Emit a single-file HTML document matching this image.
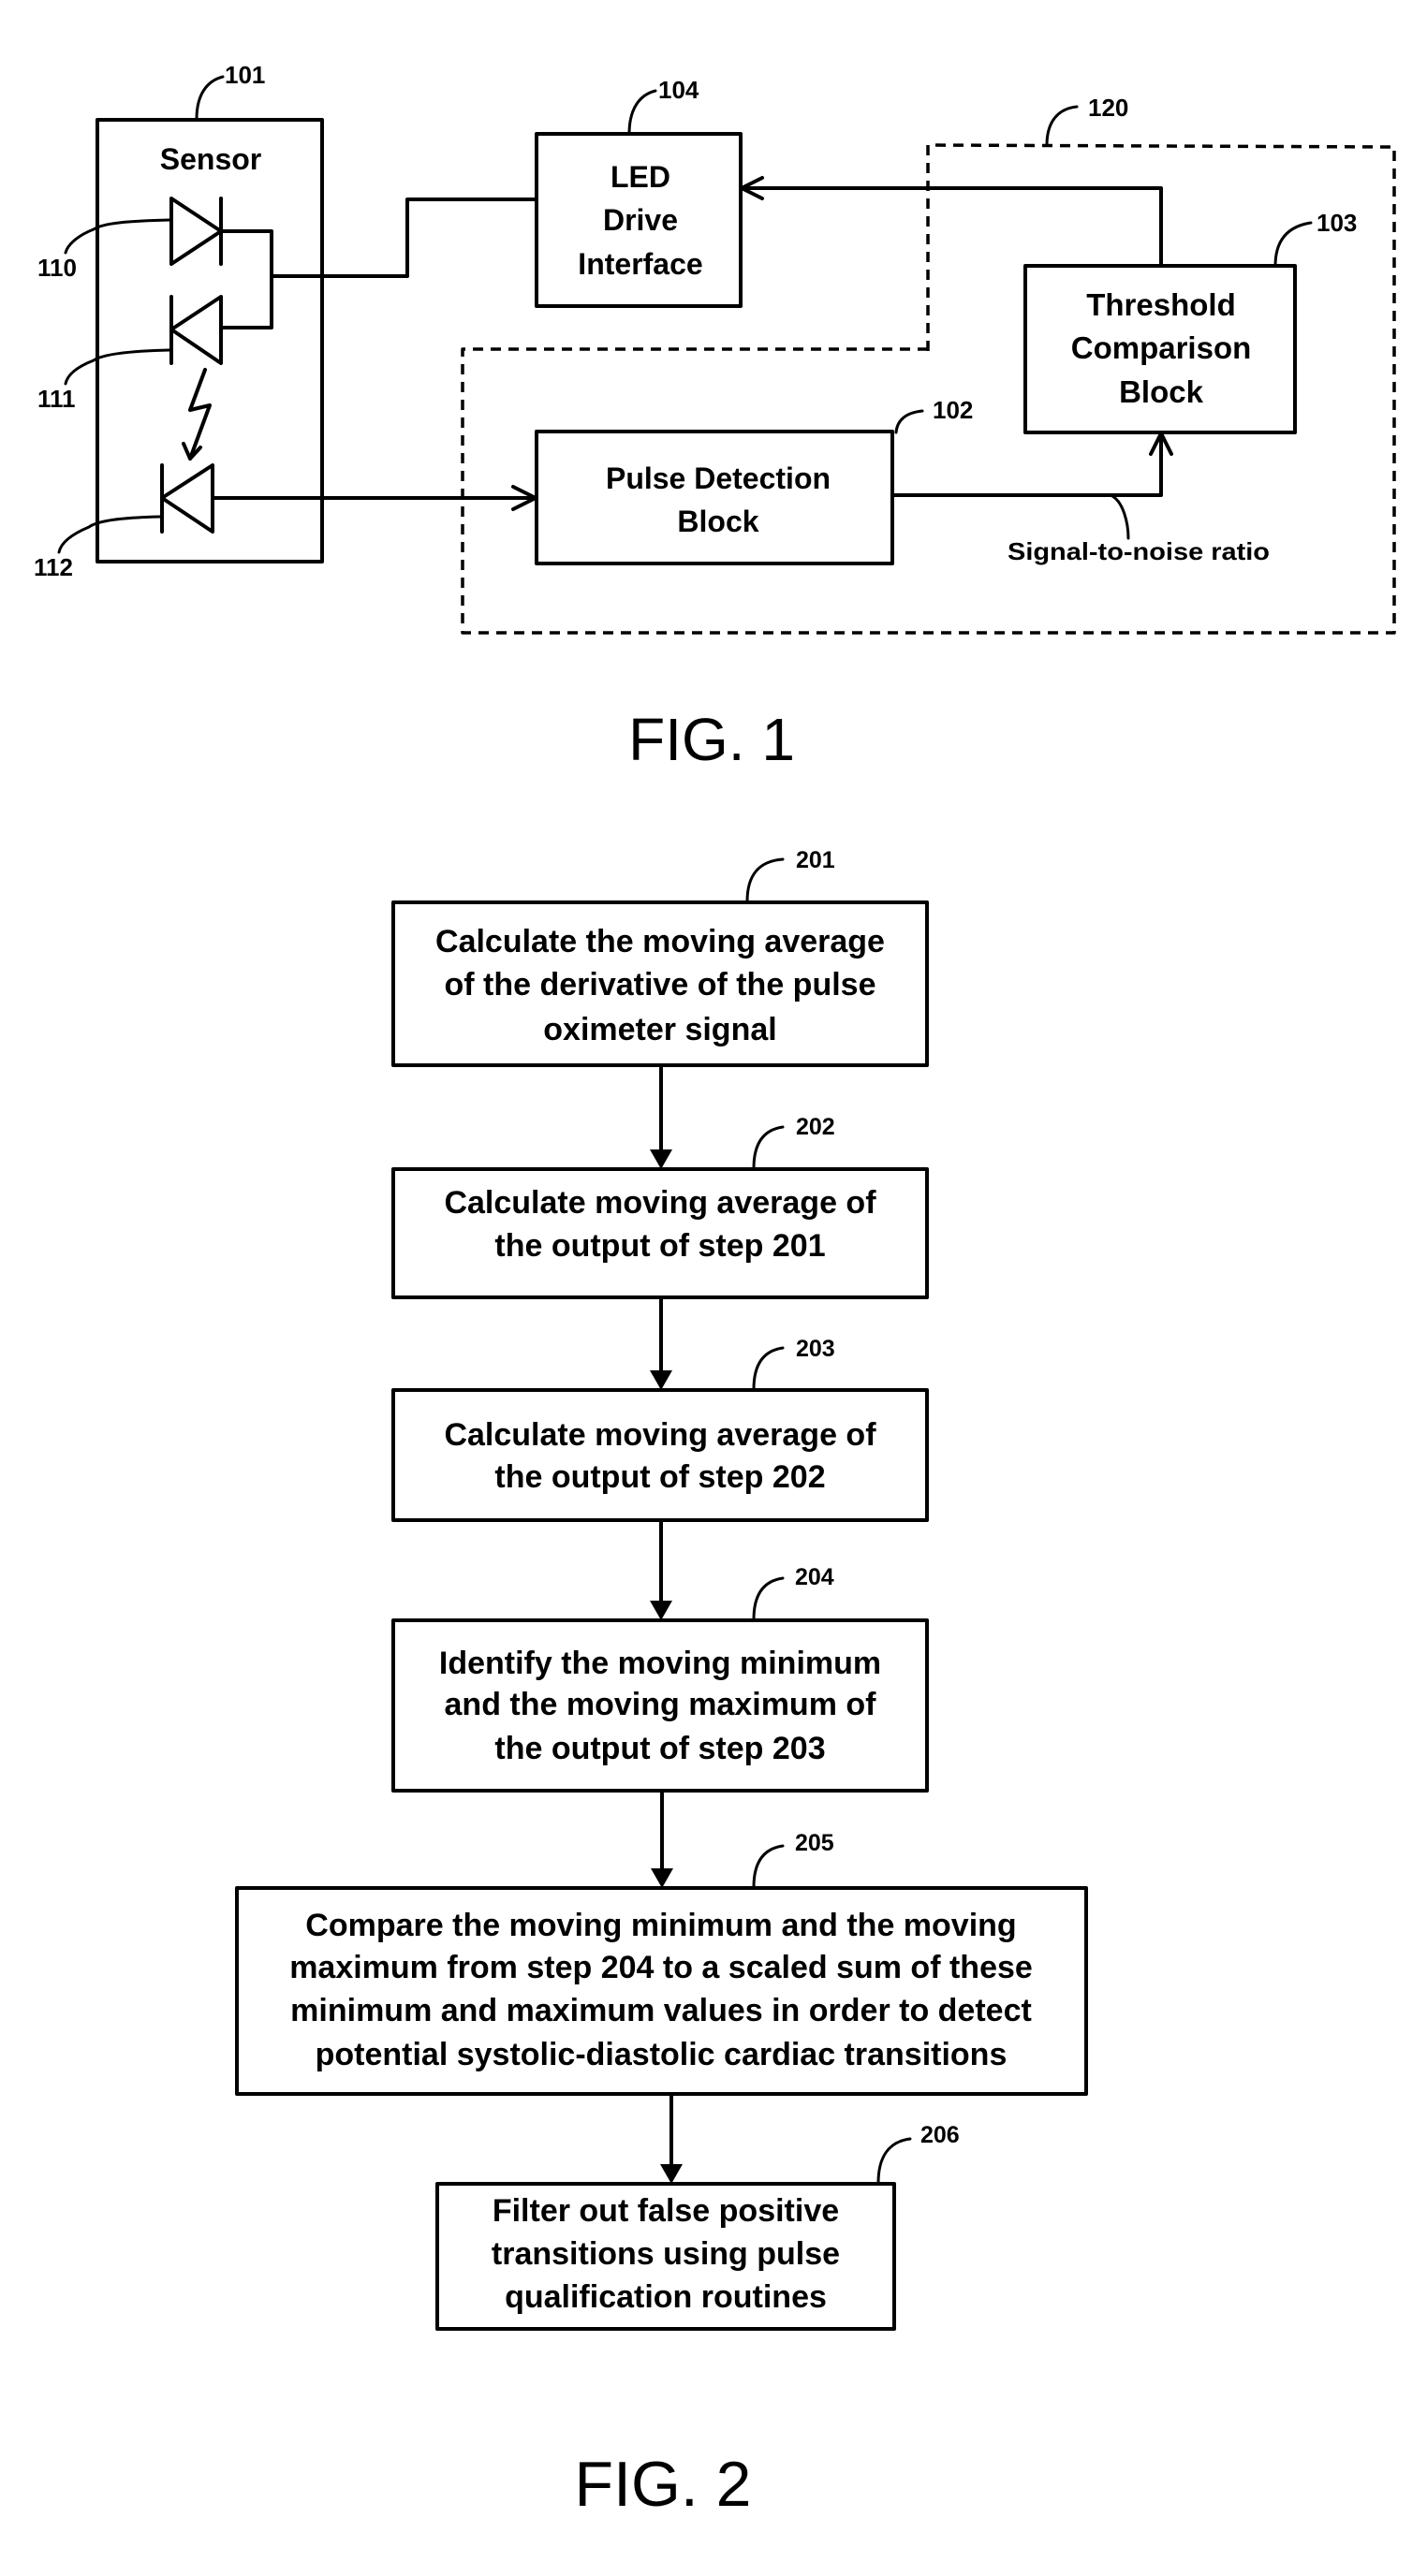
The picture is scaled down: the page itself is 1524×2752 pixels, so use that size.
<!DOCTYPE html>
<html><head><meta charset="utf-8"><style>
html,body{margin:0;padding:0;background:#fff;}
svg{display:block;}
text{font-family:"Liberation Sans",sans-serif;font-weight:bold;fill:#000;}
</style></head><body>
<svg width="1524" height="2752" viewBox="0 0 1524 2752" xmlns="http://www.w3.org/2000/svg">
<g fill="none" stroke="#000" stroke-width="4" stroke-linejoin="round" stroke-linecap="round">
<!-- FIG 1 -->
<rect x="104" y="128" width="240" height="472"/>
<polygon points="183,212 236,247 183,282"/>
<line x1="236" y1="212" x2="236" y2="282"/>
<polyline points="236,247 290,247 290,350 236,350"/>
<polygon points="236,317 183,352 236,388"/>
<line x1="183" y1="317" x2="183" y2="388"/>
<polyline points="290,295 435,295 435,213 572,213"/>
<polyline points="219,395 203,438 224,433 203,490"/>
<polyline points="196,474 203,490 214,478"/>
<polygon points="227,497 173,532 227,568"/>
<line x1="173" y1="497" x2="173" y2="568"/>
<line x1="227" y1="532" x2="572" y2="532"/>
<polyline points="548,520 572,532 548,544"/>
<rect x="573" y="143" width="218" height="184"/>
<rect x="573" y="461" width="380" height="141"/>
<rect x="1095" y="284" width="288" height="178"/>
<polyline points="1240,284 1240,201 792,201"/>
<polyline points="814,190 792,201 814,212"/>
<polyline points="953,529 1240,529 1240,463"/>
<polyline points="1229,485 1240,463 1251,485"/>
<g stroke-width="3">
<path d="M181,235 C140,236 110,238 100,245 C82,252 72,262 70,270"/>
<path d="M181,374 C140,375 110,378 100,385 C82,392 72,400 70,410"/>
<path d="M171,552 C130,553 105,556 95,563 C76,571 65,580 63,590"/>
<path d="M210,127 C210,100 222,86 238,82"/>
<path d="M672,143 C672,115 684,101 700,97"/>
<path d="M957,462 C958,450 966,441 985,439"/>
<path d="M1362,284 C1362,258 1374,242 1400,238"/>
<path d="M1118,155 C1118,130 1130,116 1150,114"/>
<path d="M1186,529 C1200,535 1205,560 1205,575"/>
</g>
<polyline points="991,375 991,155 1489,157 1489,676 494,676 494,373 991,373" stroke-width="3.5" stroke-dasharray="11 8" stroke-linecap="butt"/>
<!-- FIG 2 -->
<rect x="420" y="964" width="570" height="174"/>
<rect x="420" y="1249" width="570" height="137"/>
<rect x="420" y="1485" width="570" height="139"/>
<rect x="420" y="1731" width="570" height="182"/>
<rect x="253" y="2017" width="907" height="220"/>
<rect x="467" y="2333" width="488" height="155"/>
<line x1="706" y1="1138" x2="706" y2="1230"/>
<line x1="706" y1="1386" x2="706" y2="1466"/>
<line x1="706" y1="1624" x2="706" y2="1712"/>
<line x1="707" y1="1913" x2="707" y2="1998"/>
<line x1="717" y1="2237" x2="717" y2="2314"/>
<g stroke-width="3">
<path d="M798,963 C798,935 810,920 836,918"/>
<path d="M805,1248 C805,1222 815,1207 836,1204"/>
<path d="M805,1484 C805,1458 815,1443 836,1440"/>
<path d="M805,1730 C805,1704 815,1689 836,1686"/>
<path d="M805,2016 C805,1990 815,1975 836,1972"/>
<path d="M938,2332 C938,2306 948,2288 972,2285"/>
</g>
</g>
<g fill="#000">
<polygon points="694,1228 718,1228 706,1249"/>
<polygon points="694,1464 718,1464 706,1485"/>
<polygon points="694,1710 718,1710 706,1731"/>
<polygon points="695,1996 719,1996 707,2017"/>
<polygon points="705,2312 729,2312 717,2333"/>
</g>
<!-- FIG1 text -->
<g text-anchor="middle" font-size="32">
<text x="225" y="181">Sensor</text>
<text x="684" y="200">LED</text>
<text x="684" y="246">Drive</text>
<text x="684" y="293">Interface</text>
<text x="767" y="522">Pulse Detection</text>
<text x="767" y="568">Block</text>
<text x="1240" y="337" font-size="33">Threshold</text>
<text x="1240" y="383" font-size="33">Comparison</text>
<text x="1240" y="430" font-size="33">Block</text>
</g>
<g font-size="26">
<text x="240" y="89">101</text>
<text x="703" y="105">104</text>
<text x="996" y="447">102</text>
<text x="1406" y="247">103</text>
<text x="1162" y="124">120</text>
<text x="40" y="295">110</text>
<text x="40" y="435">111</text>
<text x="36" y="615">112</text>
<text x="1076" y="598" font-size="26" textLength="280" lengthAdjust="spacingAndGlyphs">Signal-to-noise ratio</text>
</g>
<text x="760" y="812" text-anchor="middle" font-size="64" style="font-weight:normal">FIG. 1</text>
<!-- FIG2 text -->
<g text-anchor="middle" font-size="34">
<text x="705" y="1017">Calculate the moving average</text>
<text x="705" y="1063">of the derivative of the pulse</text>
<text x="705" y="1111">oximeter signal</text>
<text x="705" y="1296">Calculate moving average of</text>
<text x="705" y="1342">the output of step 201</text>
<text x="705" y="1544">Calculate moving average of</text>
<text x="705" y="1589">the output of step 202</text>
<text x="705" y="1788">Identify the moving minimum</text>
<text x="705" y="1832">and the moving maximum of</text>
<text x="705" y="1879">the output of step 203</text>
<text x="706" y="2068">Compare the moving minimum and the moving</text>
<text x="706" y="2113">maximum from step 204 to a scaled sum of these</text>
<text x="706" y="2159">minimum and maximum values in order to detect</text>
<text x="706" y="2206">potential systolic-diastolic cardiac transitions</text>
<text x="711" y="2373">Filter out false positive</text>
<text x="711" y="2419">transitions using pulse</text>
<text x="711" y="2465">qualification routines</text>
</g>
<g font-size="25">
<text x="850" y="927">201</text>
<text x="850" y="1212">202</text>
<text x="850" y="1449">203</text>
<text x="849" y="1693">204</text>
<text x="849" y="1977">205</text>
<text x="983" y="2289">206</text>
</g>
<text x="708" y="2677" text-anchor="middle" font-size="68" style="font-weight:normal">FIG. 2</text>
</svg>
</body></html>
